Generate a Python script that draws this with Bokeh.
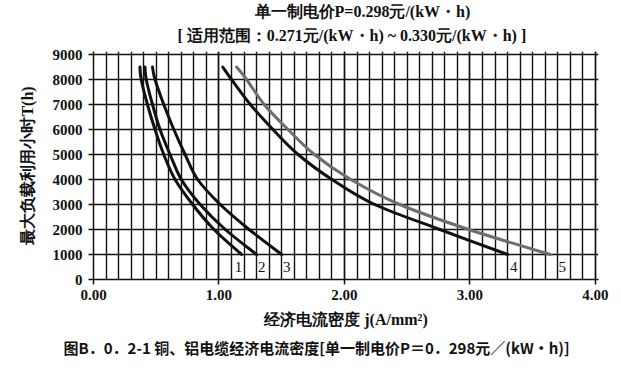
from bokeh.plotting import figure
from bokeh.models import FixedTicker, Range1d, PrintfTickFormatter, ColumnDataSource, Title
from bokeh.core.properties import value
from bokeh.embed import file_html
from bokeh.resources import INLINE

# ---- data ----
hours = [8500, 8000, 7000, 6000, 5000, 4000, 3000, 2000, 1000]
curve1 = [0.37, 0.38, 0.43, 0.49, 0.56, 0.65, 0.79, 0.96, 1.18]
curve2 = [0.41, 0.42, 0.47, 0.53, 0.61, 0.70, 0.85, 1.05, 1.30]
curve3 = [0.47, 0.49, 0.56, 0.64, 0.73, 0.83, 1.01, 1.24, 1.50]
curve4 = [1.03, 1.10, 1.25, 1.43, 1.63, 1.90, 2.24, 2.76, 3.30]
curve5 = [1.14, 1.22, 1.36, 1.55, 1.76, 2.05, 2.44, 2.99, 3.64]
curve_names = ["1", "2", "3", "4", "5"]

x_ticks = [0, 1, 2, 3, 4]
x_minor_ticks = [i / 10 for i in range(41)]
y_ticks = [0, 1000, 2000, 3000, 4000, 5000, 6000, 7000, 8000, 9000]

title_1 = "单一制电价P=0.298元/(kW・h)"
title_2 = "[ 适用范围：0.271元/(kW・h) ~ 0.330元/(kW・h) ]"
x_label = "经济电流密度 j(A/mm²)"
y_label = "最大负载利用小时T(h)"
caption = "图B．0．2-1 铜、铝电缆经济电流密度[单一制电价P＝0．298元／(kW•h)]"

# ---- figure ----
INK = "#111111"
p = figure(frame_width=505, frame_height=228,
           x_range=Range1d(0, 4.024), y_range=Range1d(0, 9120),
           output_backend="svg", toolbar_location=None, title_location=None,
           min_border_left=93, min_border_right=23,
           min_border_top=51, min_border_bottom=92)
p.outline_line_color = None
p.background_fill_color = "white"
p.border_fill_color = "white"

p.xaxis.ticker = FixedTicker(ticks=x_ticks, minor_ticks=x_minor_ticks)
p.yaxis.ticker = FixedTicker(ticks=y_ticks)
p.xaxis.formatter = PrintfTickFormatter(format="%.2f")

p.xgrid.grid_line_color = INK
p.xgrid.grid_line_width = 1.4
p.xgrid.minor_grid_line_color = INK
p.xgrid.minor_grid_line_width = 1.4
p.ygrid.grid_line_color = INK
p.ygrid.grid_line_width = 1.4

for ax in (p.xaxis, p.yaxis):
    ax.axis_line_color = INK
    ax.axis_line_width = 1.5
    ax.major_tick_line_color = INK
    ax.major_tick_line_width = 1.5
    ax.major_tick_out = 5
    ax.major_tick_in = 0
    ax.minor_tick_line_color = None
    ax.major_label_text_font = "Liberation Serif"
    ax.major_label_text_font_style = "bold"
    ax.major_label_text_font_size = "15px"
    ax.major_label_text_color = INK
    ax.axis_label_text_font = "Liberation Serif"
    ax.axis_label_text_font_style = "bold"
    ax.axis_label_text_font_size = "16px"
    ax.axis_label_text_color = INK

p.xaxis.axis_label = x_label
p.yaxis.axis_label = y_label
p.xaxis.major_label_standoff = 5
p.xaxis.axis_label_standoff = 8
p.yaxis.major_label_standoff = 6
p.yaxis.axis_label_standoff = 14


# ---- curves: smooth (Catmull-Rom style) Bezier segments through the read points ----
def smooth_segments(xs, ys):
    n = len(xs)
    seg = dict(x0=[], y0=[], x1=[], y1=[], cx0=[], cy0=[], cx1=[], cy1=[])
    for i in range(n - 1):
        xa, ya = (xs[i - 1], ys[i - 1]) if i > 0 else (xs[i], ys[i])
        xd, yd = (xs[i + 2], ys[i + 2]) if i + 2 < n else (xs[i + 1], ys[i + 1])
        seg["x0"].append(xs[i]); seg["y0"].append(ys[i])
        seg["x1"].append(xs[i + 1]); seg["y1"].append(ys[i + 1])
        seg["cx0"].append(xs[i] + (xs[i + 1] - xa) / 6)
        seg["cy0"].append(ys[i] + (ys[i + 1] - ya) / 6)
        seg["cx1"].append(xs[i + 1] - (xd - xs[i]) / 6)
        seg["cy1"].append(ys[i + 1] - (yd - ys[i]) / 6)
    return ColumnDataSource(seg)


curves = [curve1, curve2, curve3, curve4, curve5]
colors = [INK, INK, INK, INK, "#6e6e6e"]
for c, col in zip(curves, colors):
    p.bezier(x0="x0", y0="y0", x1="x1", y1="y1", cx0="cx0", cy0="cy0",
             cx1="cx1", cy1="cy1", source=smooth_segments(c, hours),
             line_width=3, line_color=col, line_cap="round")

# curve numbers just below the curve ends
lab_src = ColumnDataSource(dict(
    x=[c[-1] for c in curves], y=[hours[-1]] * 5, text=curve_names,
    dx=[-3, 5, 5, 6, 12]))
p.text(x="x", y="y", text="text", x_offset="dx", y_offset=12, source=lab_src,
       text_align="center", text_baseline="middle",
       text_font=value("Liberation Serif"), text_font_size="15px", text_color=INK)


# ---- titles (above; the first added sits nearest the frame) and caption (below) ----
def title(text, side, offset, standoff, font="Liberation Serif", size="16px"):
    p.add_layout(Title(text=text, align="left", offset=offset, standoff=standoff,
                       text_font=font, text_font_style="bold", text_font_size=size,
                       text_color=INK), side)


title(title_2, "above", 84, 15)
title(title_1, "above", 161, -5)
title(caption, "below", -30, 8, font="Noto Sans CJK SC", size="15px")

open("out.html", "w").write(file_html(p, INLINE))
